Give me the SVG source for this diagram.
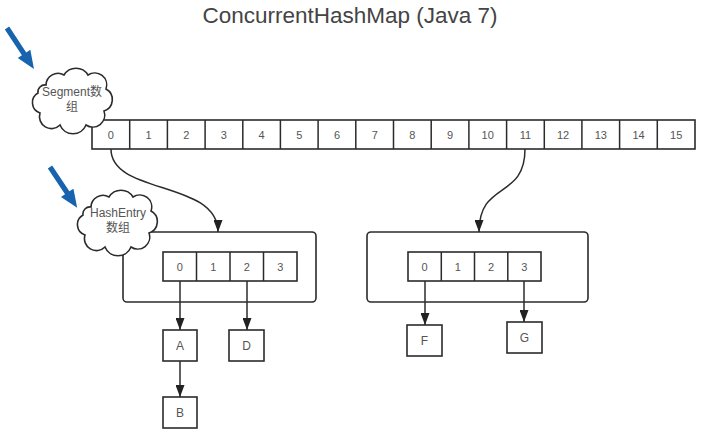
<svg xmlns="http://www.w3.org/2000/svg" width="724" height="432" viewBox="0 0 724 432">
<style>
.ln{fill:none;stroke:#2b2b2b;stroke-width:1.5}
.bx{fill:#fff;stroke:#2b2b2b;stroke-width:1.6}
.cl{fill:#fff;stroke:#2b2b2b;stroke-width:1.6}
.t{font-family:"Liberation Sans","Noto Sans CJK SC",sans-serif;font-size:11px;fill:#555;text-anchor:middle}
.lb{font-family:"Liberation Sans","Noto Sans CJK SC",sans-serif;font-size:12px;fill:#555;text-anchor:middle}
.bl{fill:#1763ad}
</style>
<defs>
<marker id="ah" viewBox="0 0 10 10" refX="10" refY="5" markerWidth="12" markerHeight="9" markerUnits="userSpaceOnUse" orient="auto" preserveAspectRatio="none">
<path d="M0,0 L10,5 L0,10 z" fill="#222"/>
</marker>
<path id="cloud" d="M14,18 A12,12 0 0 1 32,8 A14,14 0 0 1 56,8 A12,12 0 0 1 74,22 A12,12 0 0 1 72,44 A12,12 0 0 1 54,58 A14,14 0 0 1 28,58 A12,12 0 0 1 8,46 A11,11 0 0 1 6,26 A7,7 0 0 1 14,18 Z"/>
<polygon id="barrow" points="0,-2.6 31,-2.6 31,-7.5 49,0 31,7.5 31,2.6 0,2.6"/>
</defs>
<rect width="724" height="432" fill="#fff"/>
<text x="350" y="23" font-family="Liberation Sans, sans-serif" font-size="22.5" fill="#444" text-anchor="middle">ConcurrentHashMap (Java 7)</text>

<g id="segment-array">
<rect class="bx" x="92" y="120" width="603" height="29"/>
<path class="ln" d="M129.7,120V149M167.4,120V149M205.1,120V149M242.8,120V149M280.4,120V149M318.1,120V149M355.8,120V149M393.5,120V149M431.2,120V149M468.9,120V149M506.6,120V149M544.3,120V149M581.9,120V149M619.6,120V149M657.3,120V149"/>
<text class="t" x="110.8" y="138.5">0</text>
<text class="t" x="148.5" y="138.5">1</text>
<text class="t" x="186.2" y="138.5">2</text>
<text class="t" x="223.9" y="138.5">3</text>
<text class="t" x="261.6" y="138.5">4</text>
<text class="t" x="299.3" y="138.5">5</text>
<text class="t" x="337" y="138.5">6</text>
<text class="t" x="374.7" y="138.5">7</text>
<text class="t" x="412.3" y="138.5">8</text>
<text class="t" x="450" y="138.5">9</text>
<text class="t" x="487.7" y="138.5">10</text>
<text class="t" x="525.4" y="138.5">11</text>
<text class="t" x="563.1" y="138.5">12</text>
<text class="t" x="600.8" y="138.5">13</text>
<text class="t" x="638.5" y="138.5">14</text>
<text class="t" x="676.2" y="138.5">15</text>
</g>

<g id="segment-cloud">
<use href="#cloud" class="cl" transform="translate(32,67)"/>
<text class="lb" x="72" y="96">Segment数</text>
<text class="lb" x="72" y="111">组</text>
</g>
<g id="segment-pointer">
<use href="#barrow" class="bl" transform="translate(7,28) rotate(56.6)"/>
</g>

<g id="hashentry-left">
<rect class="bx" x="123" y="232" width="193" height="70" rx="4"/>
<rect class="bx" x="163" y="252" width="134" height="29"/>
<path class="ln" d="M196.5,252V281M230,252V281M263.5,252V281"/>
<text class="t" x="179.8" y="270.5">0</text>
<text class="t" x="213.3" y="270.5">1</text>
<text class="t" x="246.8" y="270.5">2</text>
<text class="t" x="280.3" y="270.5">3</text>
</g>

<g id="hashentry-cloud">
<use href="#cloud" class="cl" transform="translate(77,189)"/>
<text class="lb" x="118" y="217">HashEntry</text>
<text class="lb" x="118" y="232">数组</text>
</g>
<g id="hashentry-pointer">
<use href="#barrow" class="bl" transform="translate(50,167) rotate(56.3)"/>
</g>

<g id="hashentry-right">
<rect class="bx" x="367" y="232" width="221" height="70" rx="4"/>
<rect class="bx" x="408" y="252" width="133" height="29"/>
<path class="ln" d="M441.3,252V281M474.5,252V281M507.8,252V281"/>
<text class="t" x="424.6" y="270.5">0</text>
<text class="t" x="457.9" y="270.5">1</text>
<text class="t" x="491.1" y="270.5">2</text>
<text class="t" x="524.4" y="270.5">3</text>
</g>

<g id="node-A"><rect class="bx" x="163" y="330" width="34" height="31"/><text class="lb" x="180" y="350">A</text></g>
<g id="node-B"><rect class="bx" x="163" y="397" width="34" height="31"/><text class="lb" x="180" y="417">B</text></g>
<g id="node-D"><rect class="bx" x="229" y="330" width="35" height="31"/><text class="lb" x="246.5" y="350">D</text></g>
<g id="node-F"><rect class="bx" x="407" y="325" width="35" height="31"/><text class="lb" x="424.5" y="345">F</text></g>
<g id="node-G"><rect class="bx" x="507" y="322" width="35" height="31"/><text class="lb" x="524.5" y="342">G</text></g>

<g id="connectors">
<path class="ln" d="M111,149 C111,195 218,180 218,232" marker-end="url(#ah)"/>
<path class="ln" d="M525,149 C525,200 479,180 479,232" marker-end="url(#ah)"/>
<path class="ln" d="M180,281 V330" marker-end="url(#ah)"/>
<path class="ln" d="M247,281 V330" marker-end="url(#ah)"/>
<path class="ln" d="M180,361 V397" marker-end="url(#ah)"/>
<path class="ln" d="M425,281 V325" marker-end="url(#ah)"/>
<path class="ln" d="M524,281 V322" marker-end="url(#ah)"/>
</g>
</svg>
